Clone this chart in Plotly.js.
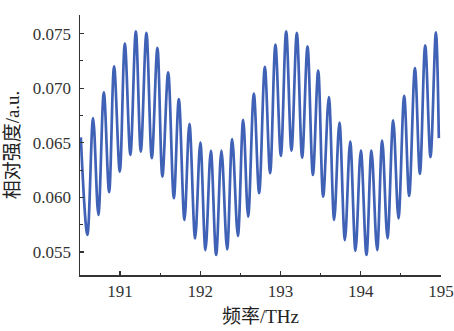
<!DOCTYPE html>
<html>
<head>
<meta charset="utf-8">
<script src="https://cdn.plot.ly/plotly-3.0.1.min.js"></script>
<style>html,body{margin:0;padding:0;background:#fff;}#chart{width:454px;height:331px;}</style>
</head>
<body>
<div id="chart"></div>
<script>
// Frequencies (THz) of the traced peaks and troughs
var freq = [190.51,190.592,190.663,190.729,190.797,190.863,190.925,190.996,191.059,191.128,
  191.196,191.258,191.328,191.395,191.465,191.527,191.599,191.670,191.732,191.802,
  191.864,191.935,192.0,192.064,192.131,192.197,192.263,192.334,192.397,192.468,
  192.534,192.596,192.667,192.733,192.804,192.870,192.936,193.004,193.070,193.136,
  193.203,193.269,193.336,193.403,193.469,193.531,193.602,193.668,193.734,193.802,
  193.868,193.934,194.001,194.071,194.133,194.204,194.267,194.333,194.404,194.470,
  194.541,194.603,194.675,194.737,194.803,194.869,194.936,194.973];
// Relative intensity (a.u.)
var intensity = [0.0655,0.05656,0.06727,0.05840,0.06962,0.06048,0.07200,0.06237,0.07408,0.06390,
  0.07521,0.06420,0.07506,0.06360,0.07369,0.06191,0.07145,0.05993,0.06901,0.05794,
  0.06674,0.05626,0.06503,0.05518,0.06427,0.05473,0.06429,0.05525,0.06534,0.05647,
  0.06711,0.05824,0.06950,0.06039,0.07195,0.06222,0.07399,0.06381,0.07521,0.06429,
  0.07506,0.06365,0.07383,0.06206,0.07161,0.06007,0.06919,0.05794,0.06686,0.05610,
  0.06512,0.05512,0.06429,0.05473,0.06429,0.05518,0.06521,0.05626,0.06705,0.05809,
  0.06931,0.06014,0.07185,0.06216,0.07393,0.06369,0.07512,0.06543];
var xTicks = [191,192,193,194,195];
var yTicks = [0.055,0.060,0.065,0.070,0.075];
var xTitle = '频率/THz';
var yTitle = '相对强度/a.u.';

var fam = '"Liberation Serif", "Times New Roman", "Noto Sans CJK SC", serif';
var axisCommon = {
  showgrid:false, zeroline:false, showline:true, linecolor:'#333', linewidth:1.5,
  ticks:'inside', ticklen:4, tickwidth:1.3, tickcolor:'#333',
  tickfont:{family:fam, size:17, color:'#333'}, mirror:false
};
var layout = {
  width:454, height:331,
  margin:{l:80, r:13, t:15, b:56, pad:0},
  paper_bgcolor:'#fff', plot_bgcolor:'#fff', showlegend:false,
  xaxis:Object.assign({}, axisCommon, {
    range:[190.5,195], tickvals:xTicks, ticktext:xTicks.map(String),
    minor:{ticks:'inside', ticklen:2.5, tickwidth:1.2, tickcolor:'#333', dtick:0.5, tick0:190.5},
    title:{text:xTitle, font:{family:fam, size:19, color:'#222'}, standoff:10}
  }),
  yaxis:Object.assign({}, axisCommon, {
    range:[0.0529,0.0767], tickvals:yTicks, ticktext:yTicks.map(function(v){return v.toFixed(3);}),
    ticklabelstandoff:4,
    minor:{ticks:'inside', ticklen:2.5, tickwidth:1.2, tickcolor:'#333', dtick:0.0025, tick0:0.0525},
    title:{text:yTitle, font:{family:fam, size:19, color:'#222'}, standoff:8}
  })
};
Plotly.newPlot('chart', [{
  x:freq, y:intensity, type:'scatter', mode:'lines',
  line:{color:'#4062b6', width:2.7, shape:'spline', smoothing:1}
}], layout, {staticPlot:true, displayModeBar:false});
</script>
</body>
</html>
